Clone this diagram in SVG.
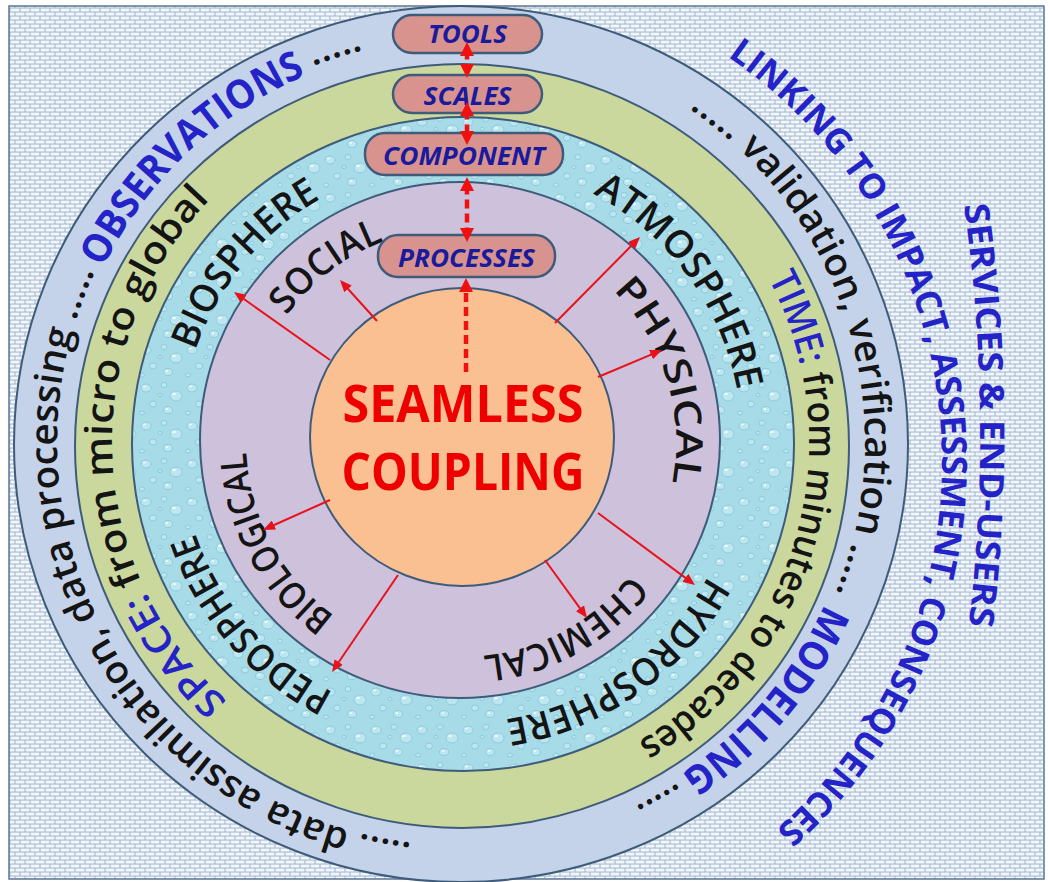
<svg xmlns="http://www.w3.org/2000/svg" width="1050" height="882" viewBox="0 0 1050 882">
<defs>
<style>
.ring{stroke:#3E5C7A;stroke-width:2}
.t{font-family:"Open Sans","Liberation Sans",Arial,sans-serif;font-weight:600;fill:#141414}
.bl{fill:#2323C8;font-weight:700}
.bx{fill:#D8938F;stroke:#3E5C7A;stroke-width:2.5}
.bt{font-family:"Open Sans","Liberation Sans",Arial,sans-serif;font-weight:700;font-style:italic;fill:#1A1A9C;font-size:25px;text-anchor:middle}
.ra{stroke:#E8121A;stroke-width:2;fill:none;marker-end:url(#ah)}
.da{stroke:#F01010;stroke-width:4.5;stroke-dasharray:9 5;fill:none}
.d{fill:#BDE6F0;stroke:#82C5D8;stroke-width:0.8}
.h{fill:#E8F8FC}
.core{font-family:"Open Sans","Liberation Sans",Arial,sans-serif;font-weight:700;font-size:52px;fill:#EE0000;text-anchor:middle}
</style>
<pattern id="brick" width="10" height="8" patternUnits="userSpaceOnUse">
<rect width="10" height="8" fill="#A9BCD3"/>
<rect x="0.6" y="0.6" width="8.8" height="2.9" fill="#F2F6FA"/>
<rect x="5.6" y="4.6" width="8.8" height="2.9" fill="#F2F6FA"/>
<rect x="-4.4" y="4.6" width="8.8" height="2.9" fill="#F2F6FA"/>
</pattern>
<pattern id="drops" width="46" height="38" patternUnits="userSpaceOnUse">
<rect width="46" height="38" fill="#A8DBE8"/>
<ellipse cx="8" cy="8" rx="5" ry="4" class="d"/><ellipse cx="6.5" cy="6.5" rx="1.5" ry="1" class="h"/>
<ellipse cx="26" cy="5" rx="3" ry="2.5" class="d"/>
<ellipse cx="38" cy="16" rx="6" ry="5" class="d"/><ellipse cx="36" cy="14" rx="2" ry="1.3" class="h"/>
<ellipse cx="15" cy="24" rx="3.5" ry="3" class="d"/>
<ellipse cx="30" cy="30" rx="4.5" ry="3.5" class="d"/><ellipse cx="29" cy="29" rx="1.4" ry="0.9" class="h"/>
<ellipse cx="4" cy="33" rx="2.5" ry="2" class="d"/>
<ellipse cx="22" cy="15" rx="2" ry="1.6" class="d"/>
</pattern>
<marker id="ah" viewBox="0 0 12 10" refX="6" refY="5" markerWidth="12" markerHeight="10" markerUnits="userSpaceOnUse" orient="auto"><path d="M0,0L12,5L0,10z" fill="#E8121A"/></marker>
<marker id="ahT" viewBox="0 0 10 10" refX="4" refY="5" markerWidth="14" markerHeight="14" markerUnits="userSpaceOnUse" orient="auto-start-reverse"><path d="M0,0L10,5L0,10z" fill="#F01010"/></marker>
<path id="p1a" d="M411.8,843.0 A404,404 0 0 1 94.9,271.3"/>
<path id="p1b" d="M103.3,267.5 A398,398 0 0 1 305.5,75.6"/>
<path id="p1c" d="M312.9,66.1 A404,404 0 0 1 363.3,50.0"/>
<path id="p2a" d="M689.3,108.7 A404,404 0 0 1 835.6,593.3"/>
<path id="p2b" d="M824.6,603.9 A398,398 0 0 1 680.7,773.9"/>
<path id="p2c" d="M678.1,782.7 A404,404 0 0 1 634.9,806.6"/>
<path id="p3" d="M227.5,701.3 A349,349 0 0 1 210.0,199.6"/>
<path id="p4" d="M768.3,278.6 A348,348 0 0 1 637.6,741.8"/>
<path id="p5a" d="M195.3,350.5 A281,281 0 0 1 320.5,198.7"/>
<path id="p5b" d="M592.9,193.9 A281,281 0 0 1 737.3,390.8"/>
<path id="p5c" d="M707.9,576.1 A281,281 0 0 1 505.0,719.5"/>
<path id="p5d" d="M333.4,692.4 A281,281 0 0 1 195.3,533.5"/>
<path id="p6a" d="M286.6,315.7 A215,215 0 0 1 380.4,242.6"/>
<path id="p6b" d="M613.0,290.0 A215,215 0 0 1 672.1,483.0"/>
<path id="p6c" d="M630.4,574.4 A215,215 0 0 1 483.5,655.8"/>
<path id="p6d" d="M334.6,615.9 A215,215 0 0 1 246.3,453.3"/>
<path id="pL" d="M727.4,56.7 A490,490 0 0 1 776.0,829.5"/>
<path id="pS" d="M964,205 Q994,418 968,632"/>
</defs>

<rect x="0" y="0" width="1050" height="882" fill="#FFFFFF"/>
<rect x="9" y="6" width="1035" height="873" fill="url(#brick)" stroke="#5A7595" stroke-width="1.5"/>

<g id="ring-outer">
<ellipse class="ring" cx="461" cy="444" rx="447" ry="438" fill="#C4D3E9"/>
<text class="t" font-size="38"><textPath href="#p1a" textLength="761" lengthAdjust="spacingAndGlyphs">..... data assimilation, data processing .....</textPath></text>
<text class="t bl" font-size="40"><textPath href="#p1b" textLength="285" lengthAdjust="spacingAndGlyphs">OBSERVATIONS</textPath></text>
<text class="t" font-size="38"><textPath href="#p1c" textLength="53" lengthAdjust="spacingAndGlyphs">.....</textPath></text>
<text class="t" font-size="38"><textPath href="#p2a" textLength="547" lengthAdjust="spacingAndGlyphs">..... validation, verification .....</textPath></text>
<text class="t bl" font-size="40"><textPath href="#p2b" textLength="226" lengthAdjust="spacingAndGlyphs">MODELLING</textPath></text>
<text class="t" font-size="38"><textPath href="#p2c" textLength="49" lengthAdjust="spacingAndGlyphs">.....</textPath></text>
</g>

<g id="ring-green">
<ellipse class="ring" cx="462" cy="446" rx="387" ry="382" fill="#CBD89D"/>
<text class="t" font-size="38"><textPath href="#p3" textLength="560" lengthAdjust="spacingAndGlyphs"><tspan fill="#2323C8">SPACE:</tspan> from micro to global</textPath></text>
<text class="t" font-size="38"><textPath href="#p4" textLength="531" lengthAdjust="spacingAndGlyphs"><tspan fill="#2323C8">TIME:</tspan> from minutes to decades</textPath></text>
</g>

<g id="ring-spheres">
<ellipse class="ring" cx="463" cy="444" rx="331" ry="327" fill="url(#drops)"/>
<text class="t" font-size="38"><textPath href="#p5a" textLength="201" lengthAdjust="spacingAndGlyphs">BIOSPHERE</textPath></text>
<text class="t" font-size="38"><textPath href="#p5b" textLength="252" lengthAdjust="spacingAndGlyphs">ATMOSPHERE</textPath></text>
<text class="t" font-size="38"><textPath href="#p5c" textLength="257" lengthAdjust="spacingAndGlyphs">HYDROSPHERE</textPath></text>
<text class="t" font-size="38"><textPath href="#p5d" textLength="216" lengthAdjust="spacingAndGlyphs">PEDOSPHERE</textPath></text>
</g>

<g id="ring-processes">
<ellipse class="ring" cx="460" cy="440" rx="260" ry="258" fill="#CDC1DB"/>
<text class="t" font-size="37"><textPath href="#p6a" textLength="124" lengthAdjust="spacingAndGlyphs">SOCIAL</textPath></text>
<text class="t" font-size="37"><textPath href="#p6b" textLength="210" lengthAdjust="spacingAndGlyphs">PHYSICAL</textPath></text>
<text class="t" font-size="37"><textPath href="#p6c" textLength="173" lengthAdjust="spacingAndGlyphs">CHEMICAL</textPath></text>
<text class="t" font-size="37"><textPath href="#p6d" textLength="192" lengthAdjust="spacingAndGlyphs">BIOLOGICAL</textPath></text>
</g>

<g id="core">
<ellipse class="ring" cx="462" cy="437" rx="152" ry="149" fill="#FBC091"/>
<text class="core" x="463" y="422" textLength="241" lengthAdjust="spacingAndGlyphs">SEAMLESS</text>
<text class="core" x="463" y="490" textLength="243" lengthAdjust="spacingAndGlyphs">COUPLING</text>
</g>

<g id="outer-labels">
<text class="t bl" font-size="35"><textPath href="#pL" textLength="893" lengthAdjust="spacingAndGlyphs">LINKING TO IMPACT, ASSESSMENT, CONSEQUENCES</textPath></text>
<text class="t bl" font-size="34"><textPath href="#pS" textLength="422" lengthAdjust="spacingAndGlyphs">SERVICES &amp; END-USERS</textPath></text>
</g>

<g id="box-tools"><rect class="bx" x="393" y="15" width="149" height="38" rx="19"/><text class="bt" x="467.5" y="43" textLength="79" lengthAdjust="spacingAndGlyphs">TOOLS</text></g>
<g id="box-scales"><rect class="bx" x="393" y="75" width="149" height="38" rx="19"/><text class="bt" x="467.5" y="105" textLength="88" lengthAdjust="spacingAndGlyphs">SCALES</text></g>
<g id="box-component"><rect class="bx" x="365" y="133" width="198" height="42" rx="20"/><text class="bt" x="464" y="165" textLength="162" lengthAdjust="spacingAndGlyphs">COMPONENT</text></g>
<g id="box-processes"><rect class="bx" x="378" y="235" width="177" height="42" rx="20"/><text class="bt" x="466.5" y="267" textLength="137" lengthAdjust="spacingAndGlyphs">PROCESSES</text></g>

<g id="connectors">
<line class="da" x1="467" y1="50.4" x2="467" y2="69.6" marker-start="url(#ahT)" marker-end="url(#ahT)"/>
<line class="da" x1="467" y1="110.4" x2="467" y2="136.6" marker-start="url(#ahT)" marker-end="url(#ahT)"/>
<line class="da" x1="467" y1="185.4" x2="467" y2="233.6" marker-start="url(#ahT)" marker-end="url(#ahT)"/>
<line class="da" x1="466" y1="372" x2="466" y2="286.4" marker-end="url(#ahT)"/>
<line class="ra" x1="330" y1="360" x2="238.9" y2="295.5"/>
<line class="ra" x1="377" y1="321" x2="344.0" y2="284.5"/>
<line class="ra" x1="555" y1="323" x2="635.8" y2="241.3"/>
<line class="ra" x1="598" y1="377" x2="656.5" y2="352.3"/>
<line class="ra" x1="330" y1="500" x2="268.5" y2="527.5"/>
<line class="ra" x1="398" y1="575" x2="335.4" y2="667.0"/>
<line class="ra" x1="545" y1="560" x2="583.5" y2="613.1"/>
<line class="ra" x1="598" y1="513" x2="690.2" y2="581.4"/>
</g>
</svg>
